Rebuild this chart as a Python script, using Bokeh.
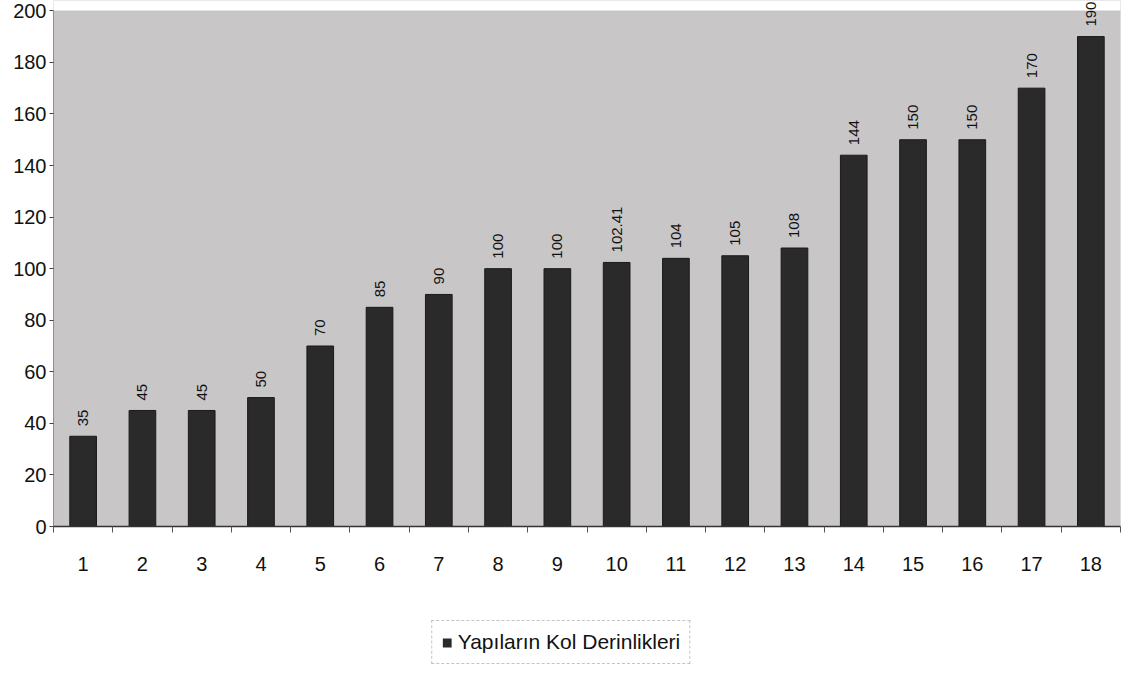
from bokeh.plotting import figure
from bokeh.layouts import column
from bokeh.models import (ColumnDataSource, FixedTicker, Legend, LegendItem,
                          LabelSet, Range1d, BoxAnnotation)
from bokeh.core.properties import value
from bokeh.embed import file_html
from bokeh.resources import INLINE

# ---- data ----
categories = [str(i) for i in range(1, 19)]
depths = [35, 45, 45, 50, 70, 85, 90, 100, 100, 102.41, 104, 105, 108,
          144, 150, 150, 170, 190]
depth_labels = ["35", "45", "45", "50", "70", "85", "90", "100", "100",
                "102.41", "104", "105", "108", "144", "150", "150", "170", "190"]
y_ticks = [0, 20, 40, 60, 80, 100, 120, 140, 160, 180, 200]
series_name = "Yapıların Kol Derinlikleri"

Y_MAX = y_ticks[-1]
xpos = [i + 1 for i in range(len(categories))]
src = ColumnDataSource(dict(x=xpos, top=depths, lab=depth_labels))

FONT = "Liberation Sans"
BAR_FILL = "#2a2a2a"
BAR_LINE = "#1a1a1a"

# a little head-room above the 200 line so the top value label is not clipped
p = figure(width=1121, height=580, output_backend="svg", toolbar_location=None,
           x_range=Range1d(0.5, len(categories) + 0.5),
           y_range=Range1d(0, Y_MAX * 1.02),
           min_border_left=53, min_border_right=1, min_border_top=0,
           min_border_bottom=54)

p.border_fill_color = "white"
p.background_fill_color = "#c8c6c6"
p.outline_line_color = None
p.grid.visible = False

# white strip above the 200 line and the dotted plot-area border
p.add_layout(BoxAnnotation(bottom=Y_MAX, fill_color="white", fill_alpha=1,
                           line_color=None, level="underlay"))
p.add_layout(BoxAnnotation(top=Y_MAX, fill_alpha=0, line_color="#8a8a8a",
                           line_dash="1 1", line_width=1, level="underlay"))

r = p.vbar(x="x", top="top", width=0.45, source=src, fill_color=BAR_FILL,
           line_color=BAR_LINE, line_width=1)

labels = LabelSet(x="x", y="top", text="lab", source=src, angle=1.5708,
                  text_align="left", text_baseline="middle", x_offset=0,
                  y_offset=10,
                  text_font=value(FONT), text_font_size="15px",
                  text_color="#111111")
p.add_layout(labels)

# x axis: labels at centres, ticks between categories
p.xaxis.ticker = FixedTicker(ticks=xpos, minor_ticks=[x - 0.5 for x in xpos] + [len(xpos) + 0.5])
p.xaxis.major_label_overrides = {x: c for x, c in zip(xpos, categories)}
p.xaxis.major_tick_line_color = None
p.xaxis.major_tick_out = 0
p.xaxis.major_tick_in = 0
p.xaxis.minor_tick_out = 6
p.xaxis.minor_tick_in = 0
p.xaxis.minor_tick_line_color = "#555555"
p.xaxis.axis_line_color = "#333333"
p.xaxis.axis_line_width = 1.5
p.xaxis.major_label_standoff = 24
p.xaxis.major_label_text_font = FONT
p.xaxis.major_label_text_font_size = "20px"
p.xaxis.major_label_text_color = "#111111"

p.yaxis.ticker = FixedTicker(ticks=y_ticks, minor_ticks=[])
p.yaxis.bounds = (0, Y_MAX)
p.yaxis.major_tick_out = 4
p.yaxis.major_tick_in = 0
p.yaxis.major_tick_line_color = "#444444"
p.yaxis.axis_line_color = "#444444"
p.yaxis.axis_line_dash = "1 1"
p.yaxis.major_label_standoff = 3
p.yaxis.major_label_text_font = FONT
p.yaxis.major_label_text_font_size = "20px"
p.yaxis.major_label_text_color = "#111111"

# legend strip underneath; its key renderer shares the bar data but is
# degenerate (zero width, zero height, no outline), so only the legend shows
p2 = figure(frame_width=1121, frame_height=84, output_backend="svg",
            toolbar_location=None,
            x_range=Range1d(0.5, len(categories) + 0.5), y_range=Range1d(-2, -1),
            x_axis_type=None, y_axis_type=None, min_border=0)
p2.outline_line_color = None
p2.grid.visible = False
p2.background_fill_color = "white"
p2.border_fill_color = "white"
key = p2.vbar(x="x", top="top", bottom="top", width=0, source=src,
              fill_color=BAR_FILL, line_color=None)

legend = Legend(items=[LegendItem(label=series_name, renderers=[key])],
                location="bottom_center", orientation="horizontal",
                glyph_width=11, glyph_height=11, label_standoff=6,
                padding=9, margin=0, spacing=0,
                label_text_font=FONT, label_text_font_size="21px",
                label_text_color="#111111",
                border_line_color="#8a8a8a", border_line_dash="2 1",
                background_fill_color="white", background_fill_alpha=1)
p2.add_layout(legend, "center")

layout = column(p, p2, spacing=0)
open("out.html", "w").write(file_html(layout, INLINE))
